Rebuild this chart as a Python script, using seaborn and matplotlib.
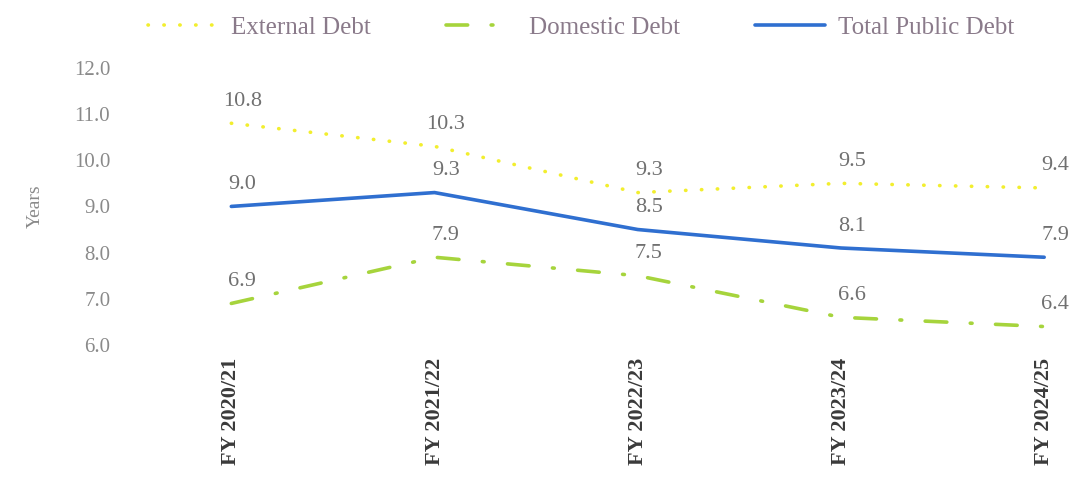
import matplotlib
matplotlib.use("Agg")
import matplotlib.pyplot as plt
import seaborn as sns
import pandas as pd

# data
years = ["FY 2020/21", "FY 2021/22", "FY 2022/23", "FY 2023/24", "FY 2024/25"]
external_debt = [10.8, 10.3, 9.3, 9.5, 9.4]
domestic_debt = [6.9, 7.9, 7.5, 6.6, 6.4]
total_debt = [9.0, 9.3, 8.5, 8.1, 7.9]

sns.set_theme(style="white")
plt.rcParams['font.family'] = ['Liberation Serif', 'DejaVu Serif']

fig = plt.figure(figsize=(10.72, 4.88), dpi=100)
ax = fig.add_axes([0.121, 0.293, 0.872, 0.568])

df = pd.DataFrame({"year": years, "ext": external_debt, "dom": domestic_debt, "tot": total_debt})

series = [
    ("ext", "External Debt", "#f2ee2e", (0, (0.1, 4.3))),
    ("dom", "Domestic Debt", "#a6d43c", (0, (6, 6.5, 0.5, 6.5))),
    ("tot", "Total Public Debt", "#2f6fd0", "-"),
]

for col, name, color, ls in series:
    sns.lineplot(data=df, x="year", y=col, ax=ax, color=color, linewidth=2.6,
                 label=name, sort=False)
    line = ax.get_lines()[-1]
    line.set_linestyle(ls)
    line.set_dash_capstyle("round")
    for i, v in enumerate(df[col]):
        ax.annotate(f"{v:.1f}", (i, v), xytext=(8, 9), textcoords="offset points",
                    ha="center", va="bottom", fontsize=16, color="#707070")

ax.set_ylim(6, 12)
ax.set_xlim(-0.5, 4.1)
ax.set_yticks([6, 7, 8, 9, 10, 11, 12])
ax.set_yticklabels([f"{t:.1f}" for t in range(6, 13)], fontsize=15, color="#8a8a8a")
ax.set_xticks(range(len(years)))
ax.set_xticklabels(years, rotation=90, fontsize=16, fontweight="bold", color="#3a3a3a")
ax.tick_params(axis="x", length=0, pad=9)
ax.tick_params(axis="y", length=0, pad=14)
ax.set_xlabel("")
ax.set_ylabel("Years", fontsize=14, color="#8a8a8a", labelpad=22)
for s in ax.spines.values():
    s.set_visible(False)

ax.get_legend().remove()
handles, labels = ax.get_legend_handles_labels()
leg = fig.legend(handles, labels, loc="upper left", bbox_to_anchor=(0.117, 1.012),
                 ncol=3, frameon=False, fontsize=18, handlelength=2.8,
                 columnspacing=3.0, handletextpad=0.52)
for t in leg.get_texts():
    t.set_color("#8a7a8a")

fig.savefig("out.png", dpi=100)
